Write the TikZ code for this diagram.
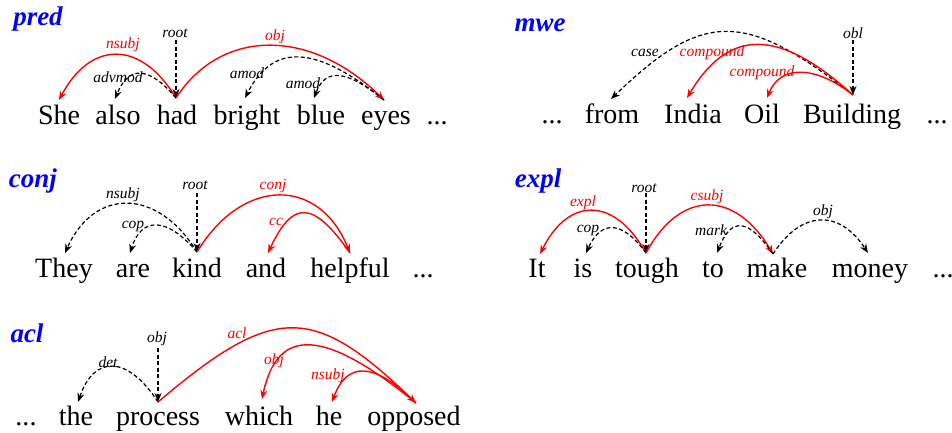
\documentclass[tikz,border=0pt]{standalone}
\usepackage{fontspec}
\setmainfont{Liberation Serif}
\usetikzlibrary{calc,arrows.meta}
\definecolor{depred}{RGB}{255,0,0}
\definecolor{titleblue}{RGB}{0,0,255}
% #1 style, #2 head, #3 dependent, #4 control height, #5/#6 control fractions
\newcommand\deparc[6]{\draw[#1] (#2) .. controls ($(#2)!#5!(#3)+(0,-#4)$) and ($(#3)!#6!(#2)+(0,-#4)$) .. (#3);}
\begin{document}
\begin{tikzpicture}[x=1pt,y=-1pt,
 word/.style={font=\fontsize{28}{30}\selectfont, anchor=base, inner sep=0pt},
 rel/.style={font=\fontsize{15.5}{16}\selectfont\itshape, inner sep=0pt},
 redrel/.style={rel, text=depred},
 ptitle/.style={font=\fontsize{27}{28}\selectfont\bfseries\itshape, text=titleblue, inner sep=0pt},
 solidarc/.style={draw=depred, line width=1.4pt, -{Stealth[length=9pt,width=7pt]}},
 dasharc/.style={draw=black, line width=1.2pt, dash pattern=on 4pt off 2.5pt, -{Stealth[length=9pt,width=7pt]}},
]
\useasboundingbox (0,0) rectangle (952,432);

% ---------------- pred ----------------
\node[ptitle] (t-pred) at (38,19) {pred};
\node[word] (w-She) at (59,124) {She};
\node[word] (w-also) at (118,124) {also};
\node[word] (w-had) at (177,124) {had};
\node[word] (w-bright) at (247,124) {bright};
\node[word] (w-blue) at (321,124) {blue};
\node[word] (w-eyes) at (386,124) {eyes};
\node[word] (w-dots1) at (437,124) {...};
\coordinate (She-t) at (59,100);
\coordinate (also-t) at (115,99);
\coordinate (had-t) at (176,98);
\coordinate (bright-t) at (245,98);
\coordinate (blue-t) at (314,98);
\coordinate (eyes-t) at (384,100);
\coordinate (had-r) at (176,40);
\draw[dasharc] (had-r) -- (had-t);
\deparc{solidarc}{had-t}{She-t}{59}{0.3}{0.27}
\deparc{solidarc}{had-t}{eyes-t}{71}{0.22}{0.35}
\deparc{dasharc}{had-t}{also-t}{33}{0.45}{0.22}
\deparc{dasharc}{eyes-t}{bright-t}{55}{0.5}{0.2}
\deparc{dasharc}{eyes-t}{blue-t}{30}{0.55}{0.16}
\node[rel] (l-root1) at (175,33) {root};
\node[redrel] (l-nsubj1) at (123,45) {nsubj};
\node[redrel] (l-obj1) at (275,37) {obj};
\node[rel] (l-advmod) at (118,77) {advmod};
\node[rel] (l-amod1) at (247,73) {amod};
\node[rel] (l-amod2) at (303,83) {amod};

% ---------------- mwe ----------------
\node[ptitle] (t-mwe) at (540,25) {mwe};
\node[word] (w-dots2) at (552,123) {...};
\node[word] (w-from) at (612,123) {from};
\node[word] (w-India) at (693,123) {India};
\node[word] (w-Oil) at (762,123) {Oil};
\node[word] (w-Building) at (852,123) {Building};
\node[word] (w-dots3) at (937,123) {...};
\coordinate (from-t) at (611,99);
\coordinate (India-t) at (687,98);
\coordinate (Oil-t) at (767,98);
\coordinate (Building-t) at (853,95);
\coordinate (Building-r) at (853,40);
\draw[dasharc] (Building-r) -- (Building-t);
\deparc{dasharc}{Building-t}{from-t}{87}{0.45}{0.38}
\deparc{solidarc}{Building-t}{India-t}{69}{0.45}{0.25}
\deparc{solidarc}{Building-t}{Oil-t}{32}{0.45}{0.15}
\node[rel] (l-obl) at (853,33) {obl};
\node[rel] (l-case) at (645,53) {case};
\node[redrel] (l-comp1) at (712,53) {compound};
\node[redrel] (l-comp2) at (762,73) {compound};

% ---------------- conj ----------------
\node[ptitle] (t-conj) at (33,181) {conj};
\node[word] (w-They) at (64,277) {They};
\node[word] (w-are) at (133,277) {are};
\node[word] (w-kind) at (197,277) {kind};
\node[word] (w-and) at (266,277) {and};
\node[word] (w-helpful) at (350,277) {helpful};
\node[word] (w-dots4) at (423,277) {...};
\coordinate (They-t) at (65,253);
\coordinate (are-t) at (130,253);
\coordinate (kind-t) at (197,252);
\coordinate (and-t) at (268,253);
\coordinate (helpful-t) at (350,253);
\coordinate (kind-r) at (197,193);
\draw[dasharc] (kind-r) -- (kind-t);
\deparc{dasharc}{kind-t}{They-t}{65}{0.3}{0.22}
\deparc{dasharc}{kind-t}{are-t}{36}{0.45}{0.17}
\deparc{solidarc}{kind-t}{helpful-t}{76}{0.3}{0.2}
\deparc{solidarc}{helpful-t}{and-t}{53}{0.45}{0.3}
\node[rel] (l-root3) at (195,185) {root};
\node[rel] (l-nsubj3) at (123,195) {nsubj};
\node[rel] (l-cop3) at (133,226) {cop};
\node[redrel] (l-conj) at (273,186) {conj};
\node[redrel] (l-cc) at (276,222) {cc};

% ---------------- expl ----------------
\node[ptitle] (t-expl) at (538,181) {expl};
\node[word] (w-It) at (537,277) {It};
\node[word] (w-is) at (583,277) {is};
\node[word] (w-tough) at (647,277) {tough};
\node[word] (w-to) at (713,277) {to};
\node[word] (w-make) at (777,277) {make};
\node[word] (w-money) at (870,277) {money};
\node[word] (w-dots5) at (943,277) {...};
\coordinate (It-t) at (540,254);
\coordinate (is-t) at (586,253);
\coordinate (tough-t) at (646,253);
\coordinate (to-t) at (717,253);
\coordinate (make-t) at (773,254);
\coordinate (money-t) at (868,253);
\coordinate (tough-r) at (646,193);
\draw[dasharc] (tough-r) -- (tough-t);
\deparc{solidarc}{tough-t}{It-t}{57}{0.3}{0.27}
\deparc{dasharc}{tough-t}{is-t}{33}{0.4}{0.25}
\deparc{solidarc}{tough-t}{make-t}{64}{0.27}{0.3}
\deparc{dasharc}{make-t}{to-t}{36}{0.45}{0.25}
\deparc{dasharc}{make-t}{money-t}{44}{0.3}{0.3}
\node[rel] (l-root4) at (644,188) {root};
\node[redrel] (l-expl) at (583,203) {expl};
\node[redrel] (l-csubj) at (707,197) {csubj};
\node[rel] (l-cop4) at (588,230) {cop};
\node[rel] (l-mark) at (711,230) {mark};
\node[rel] (l-obj4) at (823,212) {obj};

% ---------------- acl ----------------
\node[ptitle] (t-acl) at (27,333) {acl};
\node[word] (w-dots6) at (26,425) {...};
\node[word] (w-the) at (76,425) {the};
\node[word] (w-process) at (158,425) {process};
\node[word] (w-which) at (259,425) {which};
\node[word] (w-he) at (329,425) {he};
\node[word] (w-opposed) at (414,425) {opposed};
\coordinate (the-t) at (78,402);
\coordinate (process-t) at (158,402);
\coordinate (which-t) at (262,399);
\coordinate (he-t) at (332,402);
\coordinate (opposed-t) at (416,403);
\coordinate (process-r) at (158,348);
\draw[dasharc] (process-r) -- (process-t);
\deparc{dasharc}{process-t}{the-t}{47}{0.38}{0.2}
\deparc{solidarc}{process-t}{opposed-t}{99}{0.45}{0.4}
\deparc{solidarc}{opposed-t}{which-t}{73}{0.6}{0.1}
\deparc{solidarc}{opposed-t}{he-t}{41}{0.5}{0.18}
\node[rel] (l-obj5) at (157,339) {obj};
\node[rel] (l-det) at (108,362) {det};
\node[redrel] (l-acl) at (237,333) {acl};
\node[redrel] (l-obj5r) at (274,361) {obj};
\node[redrel] (l-nsubj5) at (328,376) {nsubj};
\end{tikzpicture}
\end{document}
